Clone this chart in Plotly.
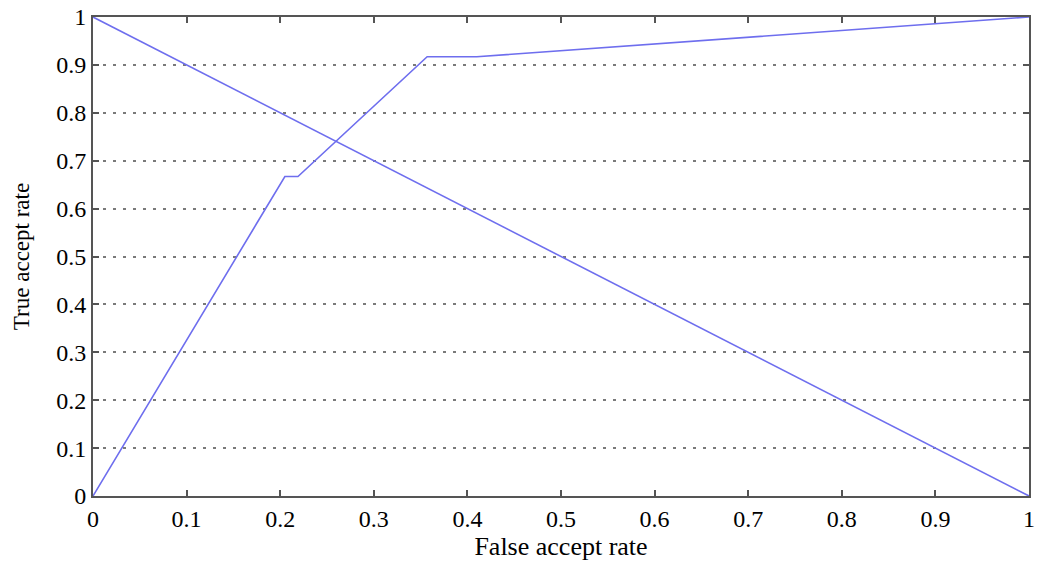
import plotly.graph_objects as go

# ROC curve
roc_far = [0.0, 0.205, 0.219, 0.357, 0.41, 1.0]
roc_tar = [0.0, 0.667, 0.667, 0.917, 0.917, 1.0]
# reference diagonal
diag_x = [0.0, 1.0]
diag_y = [1.0, 0.0]

tick_vals = [0, 0.1, 0.2, 0.3, 0.4, 0.5, 0.6, 0.7, 0.8, 0.9, 1]
tick_text = ["0", "0.1", "0.2", "0.3", "0.4", "0.5", "0.6", "0.7", "0.8", "0.9", "1"]

line_color = "#6e6eee"
axis_color = "#555555"

fig = go.Figure()
fig.add_trace(go.Scatter(x=diag_x, y=diag_y, mode="lines",
                         line=dict(color=line_color, width=1.6), showlegend=False))
fig.add_trace(go.Scatter(x=roc_far, y=roc_tar, mode="lines",
                         line=dict(color=line_color, width=1.6), showlegend=False))

fam = "Liberation Serif, Times New Roman, serif"
tick_font = dict(family=fam, size=24, color="#000000")
xtitle_font = dict(family=fam, size=26, color="#000000")
ytitle_font = dict(family=fam, size=23, color="#000000")

fig.update_layout(
    width=1038, height=574,
    margin=dict(l=93, r=9, t=17, b=78),
    paper_bgcolor="white", plot_bgcolor="white",
    font=tick_font,
)
fig.update_xaxes(
    range=[0, 1], tickvals=tick_vals, ticktext=tick_text,
    showgrid=False, zeroline=False, automargin=False,
    showline=True, linecolor=axis_color, linewidth=2, mirror="ticks",
    ticks="inside", ticklen=6, tickwidth=2, tickcolor=axis_color,
    title=dict(text="False accept rate", standoff=6, font=xtitle_font),
    tickfont=tick_font,
)
fig.update_yaxes(
    range=[0, 1], tickvals=tick_vals, ticktext=tick_text,
    showgrid=True, gridcolor="#7a7a7a", gridwidth=1.6, griddash="3px,7px",
    zeroline=False, automargin=False,
    showline=True, linecolor=axis_color, linewidth=2, mirror="ticks",
    ticks="inside", ticklen=6, tickwidth=2, tickcolor=axis_color,
    title=dict(text="True accept rate", standoff=20, font=ytitle_font),
    tickfont=tick_font,
)

fig.write_html("out.html", config={"displayModeBar": False},
               post_script="document.body.style.margin='0';document.body.style.overflow='hidden';")
